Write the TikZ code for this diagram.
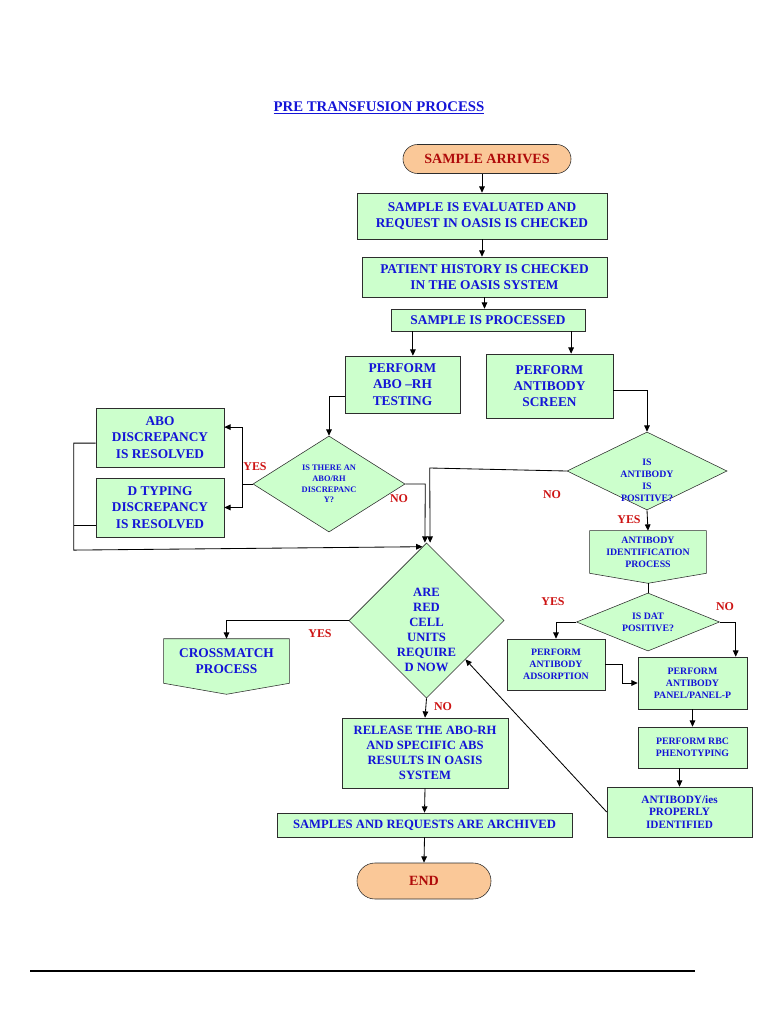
\documentclass[tikz,border=0pt]{standalone}
\usepackage{fontspec}
\setmainfont{Liberation Serif}
\usepackage{xcolor}
\usepackage{tikz}
\usetikzlibrary{arrows.meta, calc, positioning, shapes, backgrounds}
\definecolor{boxgreen}{RGB}{204,255,204}
\definecolor{termorange}{RGB}{250,200,152}
\definecolor{txtblue}{RGB}{20,20,215}
\definecolor{txtred}{RGB}{205,20,20}
\definecolor{termred}{RGB}{175,10,10}
\definecolor{edgegray}{RGB}{45,45,45}
\tikzset{
    procbox/.style={draw=edgegray,fill=boxgreen,align=center,text=txtblue,inner sep=0pt,font=\bfseries\fontsize{9.5}{11.6}\selectfont},
    termnode/.style={rounded rectangle,draw=edgegray,fill=termorange,text=termred,inner sep=0pt,font=\bfseries\fontsize{10}{12}\selectfont},
    decision/.style={diamond,draw=edgegray,fill=boxgreen,align=center,text=txtblue,inner sep=0pt},
    arr/.style={draw=black,line width=0.6pt,-{Triangle[length=4.5pt,width=4pt]}}
}

\begin{document}
\begin{tikzpicture}[x=0.025cm,y=-0.025cm]
\tikzset{
    offpage/.style={align=center,text=txtblue,inner sep=0pt,font=\bfseries\fontsize{9.5}{11.6}\selectfont},
    dtext/.style={align=center,text=txtblue,inner sep=0pt},
    smalltext/.style={font=\bfseries\fontsize{7}{8.5}\selectfont},
    midtext/.style={font=\bfseries\fontsize{9}{10.7}\selectfont},
    yn/.style={text=txtred,font=\bfseries\fontsize{8.5}{10}\selectfont}
}
  \useasboundingbox (0,0) rectangle (768,1024);
  \node[text=txtblue,font=\bfseries\fontsize{10.5}{12}\selectfont] (title) at (379,108) {\underline{PRE TRANSFUSION PROCESS}};
  \node[termnode,minimum width=4.2cm,minimum height=0.725cm] (start) at (487,159) {SAMPLE ARRIVES};
  \node[procbox,minimum width=6.25cm,minimum height=1.15cm] (b1) at (482,216) {SAMPLE IS EVALUATED AND\\REQUEST IN OASIS IS CHECKED};
  \node[procbox,minimum width=6.125cm,minimum height=1cm] (b2) at (484.5,277) {PATIENT HISTORY IS CHECKED\\IN THE OASIS SYSTEM};
  \node[procbox,minimum width=4.85cm,minimum height=0.55cm] (b3) at (488,320) {SAMPLE IS PROCESSED};
  \node[procbox,minimum width=2.875cm,minimum height=1.425cm] (b4) at (402.5,384.5) {PERFORM\\ABO --RH\\TESTING};
  \node[procbox,minimum width=3.175cm,minimum height=1.6cm] (b5) at (549.5,386) {PERFORM\\ANTIBODY\\SCREEN};
  \node[procbox,minimum width=3.2cm,minimum height=1.475cm] (abo) at (160,437.5) {ABO\\DISCREPANCY\\IS RESOLVED};
  \node[procbox,minimum width=3.2cm,minimum height=1.475cm] (dt) at (160,507.5) {D TYPING\\DISCREPANCY\\IS RESOLVED};
  \node[decision,minimum width=3.8cm,minimum height=2.4cm,font=\bfseries\fontsize{6}{7.5}\selectfont] (d1) at (329,484) {IS THERE AN\\ABO/RH\\DISCREPANC\\Y?};
  \node[decision,minimum width=4cm,minimum height=1.95cm] (dab) at (647,471) {};
  \node[dtext,smalltext] (dabtext) at (647,480) {IS\\ANTIBODY\\IS\\POSITIVE?};
  \node[offpage,smalltext,minimum width=2.9cm,minimum height=1.05cm] (abid) at (648,552) {ANTIBODY\\IDENTIFICATION\\PROCESS};
  \node[decision,minimum width=3.575cm,minimum height=1.45cm,aspect=2.5,smalltext] (ddat) at (648,622) {IS DAT\\POSITIVE?};
  \node[procbox,smalltext,minimum width=2.45cm,minimum height=1.275cm] (ads) at (556,664.5) {PERFORM\\ANTIBODY\\ADSORPTION};
  \node[procbox,smalltext,minimum width=2.725cm,minimum height=1.3cm] (panel) at (692.5,683) {PERFORM\\ANTIBODY\\PANEL/PANEL-P};
  \node[procbox,smalltext,minimum width=2.725cm,minimum height=1.025cm] (rbc) at (692.5,747.5) {PERFORM RBC\\PHENOTYPING};
  \node[procbox,minimum width=3.625cm,minimum height=1.25cm,font=\bfseries\fontsize{8}{9.1}\selectfont] (abies) at (679.5,812) {ANTIBODY/ies\\PROPERLY\\IDENTIFIED};
  \node[decision,minimum width=3.875cm,minimum height=3.875cm] (d2) at (426.5,620.5) {};
  \node[dtext,midtext] (d2text) at (426.5,630) {ARE\\RED\\CELL\\UNITS\\REQUIRE\\D NOW};
  \node[offpage,minimum width=3.125cm,minimum height=1.1cm] (cross) at (226.5,661) {CROSSMATCH\\PROCESS};
  \node[procbox,midtext,minimum width=4.15cm,minimum height=1.75cm] (rel) at (425,753) {RELEASE THE ABO-RH\\AND SPECIFIC ABS\\RESULTS IN OASIS\\SYSTEM};
  \node[procbox,midtext,minimum width=7.375cm,minimum height=0.6cm] (arch) at (424.5,825) {SAMPLES AND REQUESTS ARE ARCHIVED};
  \node[termnode,minimum width=3.35cm,minimum height=0.9cm] (end) at (424,881) {END};
  \begin{scope}[on background layer]
    \draw[draw=edgegray,fill=boxgreen] (abid.north west) -- (abid.north east) -- (abid.south east) -- ([yshift=-0.25cm]abid.south) -- (abid.south west) -- cycle;
    \draw[draw=edgegray,fill=boxgreen] (cross.north west) -- (cross.north east) -- (cross.south east) -- ([yshift=-0.275cm]cross.south) -- (cross.south west) -- cycle;
  \end{scope}
  \node[yn] (yes1) at (255,467) {YES};
  \node[yn] (no1) at (399,499) {NO};
  \node[yn] (no2) at (552,495) {NO};
  \node[yn] (yes2) at (629,520) {YES};
  \node[yn] (yes3) at (553,602) {YES};
  \node[yn] (no3) at (725,607) {NO};
  \node[yn] (yes4) at (320,634) {YES};
  \node[yn] (no4) at (443,707) {NO};
  \draw[arr] (b1.north |- start.south) -- (b1.north);
  \draw[arr] (b1.south) -- (b1.south |- b2.north);
  \draw[arr] (b2.south) -- (b2.south |- b3.north);
  \draw[arr] ([xshift=0.26cm]b4.north |- b3.south) -- ([xshift=0.26cm]b4.north);
  \draw[arr] ([xshift=0.54cm]b5.north |- b3.south) -- ([xshift=0.54cm]b5.north);
  \draw[arr] ([yshift=-0.3cm]b4.west) -| (d1.north);
  \draw[arr] (d1.west) -- ++(-10,0) coordinate (yj) |- ([yshift=0.26cm]abo.east);
  \draw[arr] (yj) |- (dt.east);
  \draw[arr] ([yshift=-0.14cm]abo.west) -- ++(-22,0) -- ++(0,107) -- ([xshift=-0.1cm,yshift=-0.1cm]d2.north);
  \draw ([yshift=-0.44cm]dt.west) -- ++(-22,0);
  \draw[arr] (d1.east) -- ++(20,0) -- ([xshift=-0.04cm]d2.north);
  \draw[arr] ([yshift=-0.12cm]b5.east) -| (dab.north);
  \draw[arr] (dab.west) -- ++(-137,-3) -- ([xshift=0.09cm]d2.north);
  \draw[arr] (dab.south) -- (abid.north);
  \draw ([yshift=-0.25cm]abid.south) -- (ddat.north);
  \draw[arr] (ddat.west) -| (ads.north);
  \draw[arr] (ddat.east) -| ([xshift=1.08cm]panel.north);
  \draw[arr] (ads.east) -- ++(17,0) |- (panel.west);
  \draw[arr] (panel.south) -- (rbc.north);
  \draw[arr] (rbc.south -| abies.north) -- (abies.north);
  \draw[arr] (abies.west) -- (d2.south east);
  \draw[arr] (d2.west) -| (cross.north);
  \draw[arr] (d2.south) -- (rel.north);
  \draw[arr] (rel.south) -- (arch.north);
  \draw[arr] (arch.south) -- (end.north);
  \coordinate (rulel) at (30,971);
  \coordinate (ruler) at (695,971);
  \draw[line width=1.4pt] (rulel) -- (ruler);
\end{tikzpicture}
\end{document}
